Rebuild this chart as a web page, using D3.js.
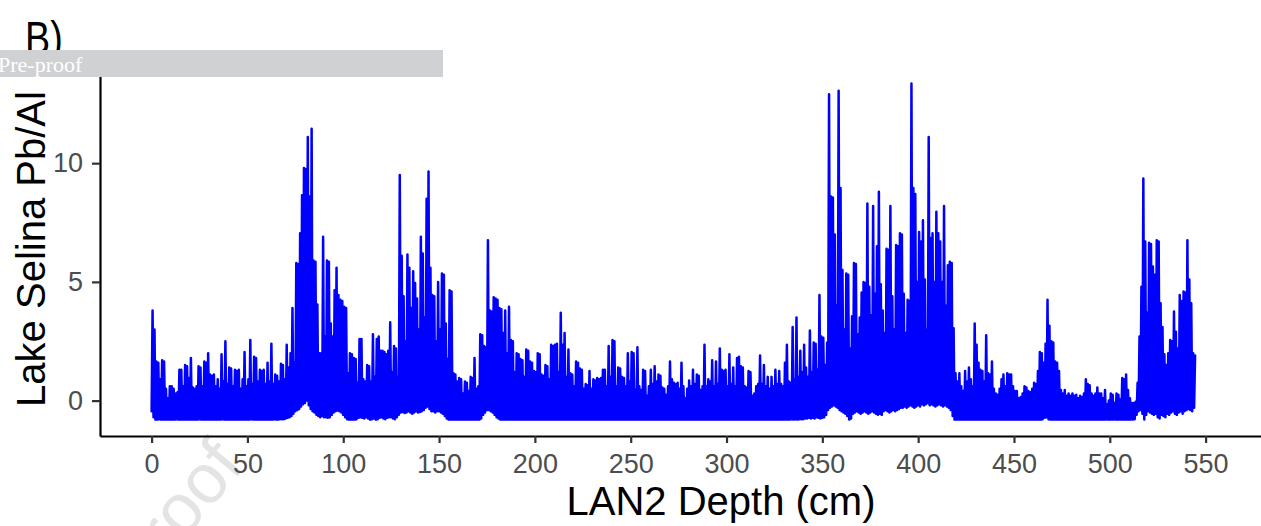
<!DOCTYPE html>
<html>
<head>
<meta charset="utf-8">
<script src="https://cdn.jsdelivr.net/npm/d3@7"></script>
<style>
  html, body { margin: 0; padding: 0; background: #ffffff; }
  svg { display: block; }
</style>
</head>
<body>
<svg id="chart" width="1261" height="526"></svg>
<script>
// ---------------- DATA ----------------
const xTickValues = [0, 50, 100, 150, 200, 250, 300, 350, 400, 450, 500, 550];
const yTickValues = [0, 5, 10];

// Upper (peak) values, one per cm of depth (0 .. 544 cm), plotted at depth + 0.5
const peakValues = [
  3.8, 3.0, 1.65, 1.6, 0.9, 1.7, 1.65, 0.5, 0.1, 0.6,        // 0
  0.6, 0.5, 0.3, 0.35, 1.3, 1.3, 0.6, 1.5, 1.45, 0.95,       // 10
  1.8, 0.55, 0.5, 0.6, 1.45, 1.4, 0.6, 1.65, 1.6, 2.0,       // 20
  1.1, 1.05, 1.1, 0.6, 0.9, 0.5, 1.95, 0.8, 2.5, 0.7,        // 30
  1.4, 1.35, 0.6, 1.3, 1.25, 1.3, 0.5, 0.9, 2.05, 0.6,       // 40
  0.9, 2.55, 0.7, 1.85, 1.8, 0.8, 1.3, 1.25, 1.3, 0.7,       // 50
  1.6, 0.8, 2.4, 0.7, 1.1, 1.05, 0.8, 1.55, 1.5, 0.9,        // 60
  2.35, 1.4, 2.0, 3.9, 1.6, 5.8, 5.75, 7.05, 8.65, 9.8,      // 70
  9.75, 11.1, 8.6, 11.45, 5.9, 5.85, 4.05, 2.0, 2.0, 6.9,    // 80
  2.7, 5.9, 5.85, 3.25, 2.7, 4.65, 5.6, 4.45, 4.25, 4.2,     // 90
  3.95, 3.9, 1.15, 2.0, 1.95, 1.8, 1.75, 0.75, 2.6, 2.6,     // 100
  0.9, 0.8, 1.5, 1.45, 0.8, 2.8, 1.0, 2.6, 2.7, 2.1,         // 110
  2.1, 2.05, 1.95, 2.1, 3.3, 1.2, 2.3, 2.2, 1.0, 9.5,        // 120
  6.1, 4.4, 2.5, 6.15, 5.6, 3.9, 5.45, 4.95, 4.3, 3.0,       // 130
  6.9, 6.2, 3.5, 8.5, 9.65, 5.6, 4.45, 4.4, 2.5, 5.0,        // 140
  3.0, 5.35, 5.3, 3.25, 1.75, 4.65, 4.6, 1.15, 1.1, 0.8,     // 150
  0.95, 0.9, 0.3, 0.8, 0.75, 0.4, 1.0, 0.95, 1.8, 0.5,       // 160
  0.6, 2.8, 2.75, 2.3, 2.25, 6.75, 3.8, 3.75, 4.35, 4.3,     // 170
  4.25, 3.9, 3.85, 2.85, 3.8, 2.0, 3.95, 2.55, 2.5, 1.2,     // 180
  2.0, 1.95, 1.75, 1.7, 1.0, 2.15, 2.1, 1.65, 1.6, 1.25,     // 190
  1.2, 2.0, 1.95, 1.1, 1.05, 1.5, 1.45, 0.9, 2.35, 2.3,      // 200
  2.35, 2.4, 1.2, 3.7, 2.35, 2.85, 1.0, 2.15, 1.15, 1.1,     // 210
  0.6, 1.65, 1.6, 1.35, 1.3, 0.5, 0.7, 0.65, 1.25, 0.5,      // 220
  0.9, 0.85, 0.95, 0.9, 0.95, 1.3, 1.3, 0.6, 2.3, 1.0,       // 230
  2.55, 2.5, 0.6, 1.4, 1.35, 1.0, 0.95, 0.6, 2.0, 0.8,       // 240
  2.05, 2.0, 0.45, 2.25, 0.6, 0.45, 1.3, 1.25, 0.2, 0.6,     // 250
  1.3, 0.7, 1.45, 0.8, 1.1, 1.05, 0.55, 0.5, 0.25, 0.6,      // 260
  1.65, 0.9, 0.75, 0.7, 0.75, 0.5, 1.6, 0.6, 0.1, 0.5,       // 270
  0.85, 0.6, 1.3, 0.7, 1.1, 1.05, 0.45, 0.6, 2.35, 0.6,      // 280
  0.9, 0.8, 1.7, 0.6, 1.65, 0.7, 2.2, 1.3, 1.25, 1.3,        // 290
  0.6, 1.95, 0.7, 1.4, 0.6, 1.8, 1.85, 1.45, 1.4, 0.6,       // 300
  0.55, 1.25, 1.2, 0.2, 0.3, 0.6, 0.7, 1.9, 0.7, 1.5,        // 310
  0.6, 1.0, 0.5, 1.0, 0.6, 1.3, 0.7, 1.25, 0.7, 0.6,         // 320
  1.6, 2.35, 0.8, 0.75, 3.1, 0.9, 3.5, 1.0, 2.1, 1.2,        // 330
  2.35, 1.4, 1.0, 2.95, 1.2, 2.45, 2.4, 1.3, 4.45, 2.7,      // 340
  2.65, 1.5, 2.45, 12.9, 8.6, 8.55, 7.0, 4.0, 13.05, 8.95,   // 350
  5.5, 3.0, 5.35, 5.3, 2.2, 3.55, 5.8, 5.75, 2.8, 3.5,       // 360
  4.55, 5.0, 4.95, 8.3, 4.8, 3.6, 8.2, 4.5, 6.5, 8.8,        // 370
  4.9, 3.8, 2.85, 6.4, 6.35, 8.2, 4.4, 3.0, 6.55, 6.5,       // 380
  7.05, 7.0, 4.5, 2.85, 4.25, 4.2, 13.35, 8.95, 8.7, 5.0,    // 390
  7.1, 6.7, 7.6, 5.1, 3.0, 11.1, 6.85, 7.05, 5.0, 7.95,      // 400
  7.05, 6.7, 5.0, 8.2, 4.0, 5.7, 5.85, 5.8, 3.05, 1.15,      // 410
  0.8, 1.15, 0.6, 0.4, 1.25, 0.8, 1.4, 0.9, 0.6, 3.25,       // 420
  2.35, 1.6, 1.3, 1.25, 0.8, 2.75, 1.15, 1.1, 1.65, 0.5,     // 430
  0.3, 0.25, 0.5, 0.9, 1.1, 0.6, 1.15, 1.1, 1.1, 0.6,        // 440
  0.4, 0.4, 0.1, 0.15, 0.3, 0.6, 0.55, 0.4, 0.35, 0.5,       // 450
  0.75, 0.7, 1.25, 2.05, 2.0, 1.6, 2.4, 4.25, 3.15, 2.5,     // 460
  2.45, 1.65, 1.6, 1.25, 0.45, 0.3, 0.45, 0.2, 0.3, 0.2,     // 470
  0.3, 0.2, 0.25, 0.1, 0.2, 0.15, 0.3, 0.9, 0.7, 0.65,       // 480
  0.3, 0.2, 0.3, 0.55, 0.3, 0.3, 0.1, 0.45, -0.15, 0.0,      // 490
  0.3, 0.25, -0.1, 0.3, 0.25, 0.05, 0.95, 0.9, 1.1, 0.45,    // 500
  0.1, -0.1, -0.1, -0.05, 0.75, 2.7, 4.8, 9.35, 6.7, 3.7,    // 510
  6.65, 6.6, 5.65, 5.3, 6.75, 6.7, 4.1, 3.1, 1.95, 1.5,      // 520
  2.0, 2.55, 2.5, 3.75, 2.9, 2.2, 4.45, 4.2, 4.6, 4.55,      // 530
  6.75, 5.1, 4.1, 2.0, 1.9                                   // 540
];

// Lower (trough) values, one per cm of depth (0 .. 544 cm), plotted at depth
const troughValues = [
  -0.45, -0.7, -0.8, -0.8, -0.78, -0.8, -0.8, -0.8, -0.8, -0.8,     // 0
  -0.8, -0.8, -0.8, -0.78, -0.8, -0.8, -0.8, -0.8, -0.8, -0.8,      // 10
  -0.8, -0.8, -0.8, -0.8, -0.8, -0.78, -0.8, -0.8, -0.8, -0.8,      // 20
  -0.8, -0.8, -0.8, -0.8, -0.8, -0.8, -0.8, -0.78, -0.8, -0.8,      // 30
  -0.8, -0.8, -0.8, -0.8, -0.8, -0.8, -0.8, -0.8, -0.8, -0.8,       // 40
  -0.8, -0.8, -0.78, -0.8, -0.8, -0.8, -0.8, -0.8, -0.8, -0.8,      // 50
  -0.8, -0.8, -0.8, -0.8, -0.78, -0.8, -0.8, -0.78, -0.78, -0.78,   // 60
  -0.75, -0.72, -0.7, -0.65, -0.55, -0.45, -0.4, -0.35, -0.25, -0.15, // 70
  -0.1, 0.0, -0.2, -0.35, -0.45, -0.5, -0.6, -0.65, -0.7, -0.65,    // 80
  -0.7, -0.7, -0.72, -0.7, -0.6, -0.5, -0.45, -0.42, -0.45, -0.5,   // 90
  -0.6, -0.7, -0.78, -0.8, -0.8, -0.8, -0.8, -0.78, -0.72, -0.7,    // 100
  -0.72, -0.75, -0.7, -0.75, -0.8, -0.78, -0.75, -0.8, -0.78, -0.72, // 110
  -0.7, -0.75, -0.78, -0.72, -0.7, -0.7, -0.75, -0.78, -0.7, -0.6,  // 120
  -0.5, -0.48, -0.52, -0.5, -0.45, -0.5, -0.55, -0.5, -0.45, -0.5,  // 130
  -0.48, -0.45, -0.4, -0.3, -0.25, -0.35, -0.45, -0.45, -0.5, -0.45, // 140
  -0.45, -0.5, -0.55, -0.65, -0.75, -0.8, -0.8, -0.8, -0.8, -0.8,   // 150
  -0.8, -0.8, -0.8, -0.8, -0.8, -0.8, -0.8, -0.8, -0.8, -0.8,       // 160
  -0.8, -0.8, -0.75, -0.6, -0.5, -0.4, -0.4, -0.45, -0.5, -0.6,     // 170
  -0.7, -0.75, -0.8, -0.8, -0.8, -0.8, -0.8, -0.8, -0.8, -0.8,      // 180
  -0.8, -0.8, -0.8, -0.8, -0.8, -0.8, -0.8, -0.8, -0.8, -0.8,       // 190
  -0.8, -0.8, -0.8, -0.8, -0.8, -0.8, -0.8, -0.8, -0.8, -0.8,       // 200
  -0.8, -0.8, -0.8, -0.8, -0.8, -0.8, -0.8, -0.8, -0.8, -0.8,       // 210
  -0.8, -0.8, -0.8, -0.8, -0.8, -0.8, -0.8, -0.8, -0.8, -0.8,       // 220
  -0.8, -0.8, -0.8, -0.8, -0.8, -0.8, -0.8, -0.8, -0.8, -0.8,       // 230
  -0.8, -0.8, -0.8, -0.8, -0.8, -0.8, -0.8, -0.8, -0.8, -0.8,       // 240
  -0.8, -0.8, -0.8, -0.8, -0.8, -0.8, -0.8, -0.8, -0.8, -0.8,       // 250
  -0.8, -0.8, -0.8, -0.8, -0.8, -0.8, -0.8, -0.8, -0.8, -0.8,       // 260
  -0.8, -0.8, -0.8, -0.8, -0.8, -0.8, -0.8, -0.8, -0.8, -0.8,       // 270
  -0.8, -0.8, -0.8, -0.8, -0.8, -0.8, -0.8, -0.8, -0.8, -0.8,       // 280
  -0.8, -0.8, -0.8, -0.8, -0.8, -0.8, -0.8, -0.8, -0.8, -0.8,       // 290
  -0.8, -0.8, -0.8, -0.8, -0.8, -0.8, -0.8, -0.8, -0.8, -0.8,       // 300
  -0.8, -0.8, -0.8, -0.8, -0.8, -0.8, -0.8, -0.8, -0.8, -0.8,       // 310
  -0.8, -0.8, -0.8, -0.8, -0.8, -0.8, -0.8, -0.8, -0.8, -0.8,       // 320
  -0.8, -0.8, -0.8, -0.8, -0.78, -0.8, -0.78, -0.8, -0.78, -0.78,   // 330
  -0.78, -0.75, -0.75, -0.72, -0.75, -0.72, -0.75, -0.7, -0.72, -0.75, // 340
  -0.72, -0.7, -0.6, -0.4, -0.3, -0.25, -0.2, -0.25, -0.3, -0.4,    // 350
  -0.45, -0.5, -0.55, -0.65, -0.8, -0.75, -0.55, -0.5, -0.45, -0.5, // 360
  -0.55, -0.5, -0.45, -0.5, -0.55, -0.5, -0.45, -0.5, -0.55, -0.6,  // 370
  -0.55, -0.6, -0.45, -0.4, -0.45, -0.5, -0.45, -0.4, -0.45, -0.4,  // 380
  -0.35, -0.3, -0.3, -0.25, -0.3, -0.25, -0.2, -0.25, -0.3, -0.25,  // 390
  -0.2, -0.25, -0.15, -0.2, -0.15, -0.1, -0.2, -0.15, -0.2, -0.25,  // 400
  -0.2, -0.15, -0.2, -0.25, -0.2, -0.25, -0.3, -0.4, -0.65, -0.8,   // 410
  -0.8, -0.8, -0.8, -0.8, -0.8, -0.8, -0.8, -0.8, -0.8, -0.8,       // 420
  -0.8, -0.8, -0.8, -0.8, -0.8, -0.8, -0.8, -0.8, -0.8, -0.8,       // 430
  -0.8, -0.8, -0.8, -0.8, -0.8, -0.8, -0.8, -0.8, -0.8, -0.8,       // 440
  -0.8, -0.8, -0.8, -0.8, -0.8, -0.8, -0.8, -0.8, -0.8, -0.8,       // 450
  -0.8, -0.8, -0.8, -0.8, -0.8, -0.78, -0.72, -0.7, -0.78, -0.8,    // 460
  -0.8, -0.8, -0.8, -0.8, -0.8, -0.8, -0.8, -0.8, -0.8, -0.8,       // 470
  -0.8, -0.8, -0.8, -0.8, -0.8, -0.8, -0.8, -0.8, -0.8, -0.8,       // 480
  -0.8, -0.8, -0.8, -0.8, -0.8, -0.8, -0.8, -0.8, -0.8, -0.8,       // 490
  -0.8, -0.8, -0.8, -0.8, -0.8, -0.8, -0.8, -0.8, -0.8, -0.8,       // 500
  -0.8, -0.8, -0.8, -0.78, -0.6, -0.45, -0.4, -0.55, -0.8, -0.6,    // 510
  -0.45, -0.5, -0.55, -0.6, -0.55, -0.7, -0.75, -0.6, -0.65, -0.7,  // 520
  -0.55, -0.6, -0.5, -0.45, -0.55, -0.6, -0.5, -0.45, -0.55, -0.45, // 530
  -0.4, -0.35, -0.4, -0.45, -0.3                                    // 540
];

const depthCm = d3.range(0, peakValues.length);

// ---------------- CHART ----------------
const svg = d3.select("#chart");
const W = 1261, H = 526;
const sans = "'Liberation Sans', Arial, sans-serif";
svg.append("rect").attr("width", W).attr("height", H).attr("fill", "#ffffff");

// watermark (behind everything)
svg.append("text")
  .attr("transform", "translate(246,466) rotate(-50)")
  .attr("text-anchor", "end")
  .style("font-family", sans)
  .style("font-size", "70px")
  .attr("fill", "#e4e4e4")
  .text("Journal Pre-proof");

const panel = { left: 100, right: 1261, top: 67, bottom: 436 };

const x = d3.scaleLinear()
  .domain([-26.93, 578.9])
  .range([panel.left, panel.right]);

const y = d3.scaleLinear()
  .domain([-1.49, 14.05])
  .range([panel.bottom, panel.top]);

// build the line series: trough at each cm, peak half a cm later
const series = [];
depthCm.forEach((d, i) => {
  series.push({ depth: d, value: troughValues[i] });
  series.push({ depth: d + 0.5, value: peakValues[i] });
});

const line = d3.line()
  .x(p => x(p.depth))
  .y(p => y(p.value));

svg.append("path")
  .datum(series)
  .attr("d", line)
  .attr("fill", "none")
  .attr("stroke", "#0000ff")
  .attr("stroke-width", 2.5)
  .attr("stroke-linejoin", "round")
  .attr("stroke-linecap", "round");

// axes
const xAxis = d3.axisBottom(x)
  .tickValues(xTickValues)
  .tickSize(7)
  .tickSizeOuter(0)
  .tickPadding(11)
  .tickFormat(d3.format("d"));

const gx = svg.append("g")
  .attr("transform", `translate(0,${panel.bottom})`)
  .call(xAxis);

const yAxis = d3.axisLeft(y)
  .tickValues(yTickValues)
  .tickSize(8)
  .tickSizeOuter(0)
  .tickPadding(9)
  .tickFormat(d3.format("d"));

const gy = svg.append("g")
  .attr("transform", `translate(${panel.left},0)`)
  .call(yAxis);

[gx, gy].forEach(g => {
  g.select(".domain").attr("stroke", "#000000").attr("stroke-width", 2.2);
  g.selectAll(".tick line").attr("stroke", "#333333").attr("stroke-width", 2.2);
  g.selectAll(".tick text")
    .attr("fill", "#4d4d4d")
    .style("font-family", sans)
    .style("font-size", "27px");
});

// axis titles
svg.append("text")
  .attr("x", 721)
  .attr("y", 515)
  .attr("text-anchor", "middle")
  .style("font-family", sans)
  .style("font-size", "40px")
  .attr("fill", "#000000")
  .text("LAN2 Depth (cm)");

svg.append("text")
  .attr("transform", "translate(45,249) rotate(-90)")
  .attr("text-anchor", "middle")
  .style("font-family", sans)
  .style("font-size", "40px")
  .attr("fill", "#000000")
  .text("Lake Selina Pb/Al");

// panel label
svg.append("text")
  .attr("transform", "translate(25,54) scale(0.82,1)")
  .style("font-family", sans)
  .style("font-size", "46px")
  .attr("fill", "#000000")
  .text("B)");

// pre-proof banner
svg.append("rect")
  .attr("x", 0).attr("y", 50)
  .attr("width", 443).attr("height", 27)
  .attr("fill", "#d0d1d3");

svg.append("text")
  .attr("x", -2)
  .attr("y", 72)
  .style("font-family", "'Liberation Serif', 'Times New Roman', serif")
  .style("font-size", "22px")
  .attr("fill", "#ffffff")
  .text("Pre-proof");
</script>
</body>
</html>
